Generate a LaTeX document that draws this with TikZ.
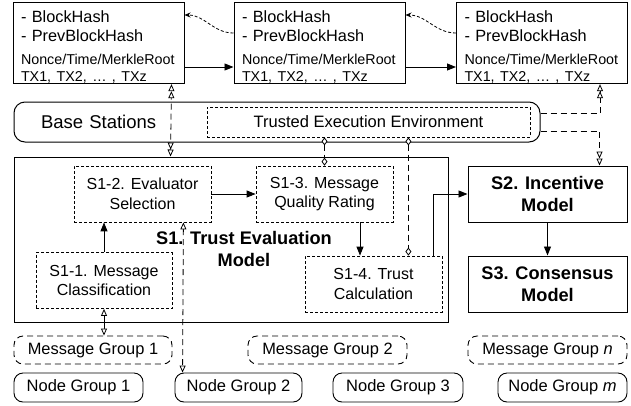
\documentclass[tikz,border=0pt]{standalone}
\usepackage{fontspec}
\setmainfont{Liberation Sans}
\usetikzlibrary{arrows.meta}
\tikzset{
  blockbox/.style={draw,line width=1pt,minimum height=78pt,text width=155pt,inner xsep=8pt,inner ysep=0pt,align=left,font=\fontsize{16.3}{19.5}\selectfont},
  basebox/.style={draw,line width=1pt,rounded corners=11pt,minimum height=40pt,text width=472pt,inner xsep=27pt,inner ysep=0pt,align=left,font=\fontsize{18.5}{22}\selectfont},
  teebox/.style={draw,line width=0.8pt,dash pattern=on 3pt off 2pt,minimum width=323pt,minimum height=30pt,inner sep=0pt,font=\fontsize{16.5}{19}\selectfont},
  framebox/.style={draw,line width=1pt,minimum width=434pt,minimum height=165pt,inner sep=0pt},
  stepbox/.style={draw,line width=0.8pt,dash pattern=on 3pt off 2pt,minimum width=137pt,minimum height=56pt,inner sep=0pt,align=center,font=\fontsize{16}{19.5}\selectfont},
  mainbox/.style={draw,line width=1pt,minimum width=159pt,minimum height=56pt,inner sep=0pt,align=center,font=\fontsize{18.2}{21.5}\selectfont\bfseries},
  msggroup/.style={draw,line width=0.9pt,dash pattern=on 6pt off 4pt,rounded corners=9pt,minimum width=158pt,minimum height=28pt,inner sep=0pt,font=\fontsize{16.4}{19}\selectfont},
  nodegroup/.style={draw,line width=0.9pt,rounded corners=9pt,minimum height=29pt,inner sep=0pt,font=\fontsize{16.5}{19}\selectfont},
  solidarrow/.style={line width=0.9pt,-{Triangle[length=9pt,width=7pt]}},
  opentip/.tip={Triangle[fill=white,length=7pt,width=6pt]},
  diatip/.tip={Diamond[fill=white,length=8pt,width=6pt]},
  dashline/.style={line width=0.8pt,dash pattern=on 6pt off 4pt},
}
\newcommand{\smalltx}{\fontsize{14.3}{17}\selectfont}
\begin{document}
\begin{tikzpicture}[x=1pt,y=-1pt]
\useasboundingbox (0,0) rectangle (631,405);

\node[blockbox] (b1) at (98.5,43) {\rule{0pt}{20pt}- BlockHash\\- PrevBlockHash\\[3pt]{\smalltx Nonce/Time/MerkleRoot}\\[-2pt]{\smalltx TX1, TX2, … , TXz}};
\node[blockbox] (b2) at (319.5,43) {\rule{0pt}{20pt}- BlockHash\\- PrevBlockHash\\[3pt]{\smalltx Nonce/Time/MerkleRoot}\\[-2pt]{\smalltx TX1, TX2, … , TXz}};
\node[blockbox] (b3) at (542,43) {\rule{0pt}{20pt}- BlockHash\\- PrevBlockHash\\[3pt]{\smalltx Nonce/Time/MerkleRoot}\\[-2pt]{\smalltx TX1, TX2, … , TXz}};

\node[basebox] (bs) at (277,122) {Base Stations};
\node[teebox] (tee) at (368.5,122) {Trusted Execution Environment};

\node[framebox] (s1) at (231,239.5) {};
\node[font=\fontsize{18.2}{21.5}\selectfont\bfseries,align=center] (s1title) at (244,249) {S1. Trust Evaluation\\Model};
\node[stepbox] (s12) at (142.5,194) {S1-2. Evaluator\\Selection};
\node[stepbox] (s13) at (324.5,194) {S1-3. Message\\Quality Rating};
\node[stepbox,minimum width=136pt] (s11) at (104,280.5) {S1-1. Message\\Classification};
\node[stepbox] (s14) at (373.5,284) {S1-4. Trust\\Calculation};

\node[mainbox] (s2) at (547.5,194) {S2. Incentive\\Model};
\node[mainbox] (s3) at (547.5,284) {S3. Consensus\\Model};

\node[msggroup] (mg1) at (93,350) {Message Group 1};
\node[msggroup,minimum width=159pt] (mg2) at (327.5,350) {Message Group 2};
\node[msggroup,minimum width=159pt] (mgn) at (547.5,350) {Message Group \textit{n}};

\node[nodegroup,minimum width=129pt] (ng1) at (78.5,387.5) {Node Group 1};
\node[nodegroup,minimum width=127pt] (ng2) at (238.5,387.5) {Node Group 2};
\node[nodegroup,minimum width=130pt] (ng3) at (398,387.5) {Node Group 3};
\node[nodegroup,minimum width=129pt] (ngm) at (562.5,387.5) {Node Group \textit{m}};

\draw[solidarrow] ([yshift=-24pt]b1.east) -- ([yshift=-24pt]b2.west);
\draw[solidarrow] ([yshift=-24pt]b2.east) -- ([yshift=-24pt]b3.west);
\draw[line width=0.8pt,dash pattern=on 3pt off 2pt,-{Stealth[length=6pt,width=5pt]}] ([yshift=10pt]b2.west) to[out=180,in=0] ([yshift=28pt]b1.east);
\draw[line width=0.8pt,dash pattern=on 3pt off 2pt,-{Stealth[length=6pt,width=5pt]}] ([yshift=10pt]b3.west) to[out=180,in=0] ([yshift=28pt]b2.east);

\draw[dashline,{opentip[]opentip[]}-{opentip[]opentip[]}] ([xshift=157pt]s1.north west) -- ([xshift=-13pt]b1.south east);
\draw[dashline,-{opentip[]opentip[]}] ([yshift=9pt]bs.east) -| ([xshift=-28pt]b3.south east);
\draw[dashline,-{opentip[]opentip[]}] ([yshift=-9pt]bs.east) -| ([xshift=-28pt]s2.north east);
\draw[dashline,diatip-diatip] (tee.south -| s13.north) -- (s13.north);
\draw[dashline,diatip-diatip] ([xshift=-122pt]tee.south east) -- ([xshift=-34pt]s14.north east);

\draw[solidarrow] (s11.north) -- (s11.north |- s12.south);
\draw[solidarrow] (s12.east) -- (s13.west);
\draw[solidarrow] ([xshift=35.5pt]s13.south) -- ([xshift=-13.5pt]s14.north);
\draw[solidarrow] ([xshift=-9pt]s14.north east) |- (s2.west);
\draw[solidarrow] (s2.south) -- (s3.north);

\draw[line width=0.8pt,opentip-opentip] (s11.south) -- (s11.south |- mg1.north);
\draw[dashline,opentip-opentip] ([xshift=-28pt]s12.south east) -- ([xshift=8pt]ng2.north west);
\end{tikzpicture}
\end{document}
